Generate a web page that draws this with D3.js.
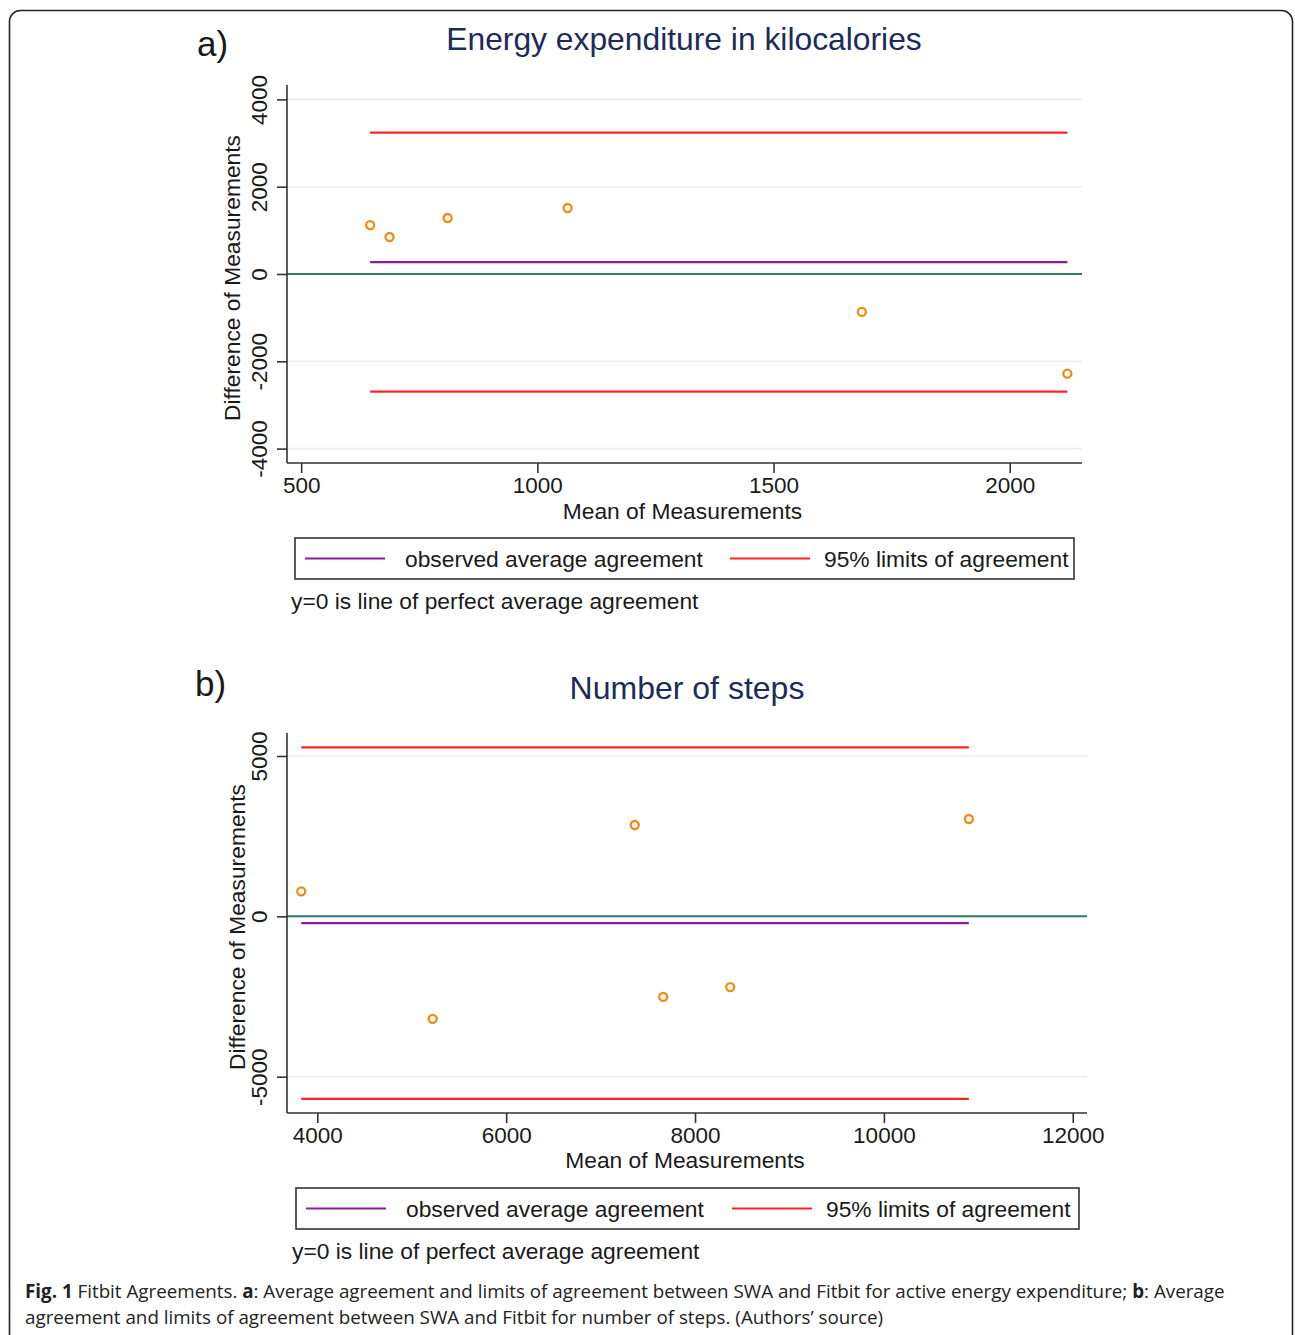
<!DOCTYPE html>
<html lang="en">
<head>
    <meta charset="UTF-8">
    <title>Fitbit Agreements - Bland-Altman plots</title>
    <script type="text/javascript" src="https://d3js.org/d3.v7.min.js"></script>
    <style>
        body { margin:0; background:#fff; }
        svg text { font-family:"Liberation Sans", Arial, sans-serif; fill:#1a1a1a; }
        .axis path, .axis line { stroke:#333; stroke-width:1.6px; }
        .grid { stroke:#e5eff1; stroke-width:1.6px; }
        svg text.caption { font-family:"Open Sans", "Noto Sans", sans-serif; fill:#222; }
    </style>
</head>
<body>
<script type="text/javascript">
    // panel a: energy expenditure (kcal)
    var energyMean = [646, 687, 810, 1064, 1687, 2122];
    var energyDiff = [1122, 848, 1283, 1512, -870, -2284];
    var energyBias = 270;
    var energyLimits = [-2696, 3237];
    var energyXTicks = [500, 1000, 1500, 2000];
    var energyYTicks = [-4000, -2000, 0, 2000, 4000];

    // panel b: number of steps
    var stepsMean = [3830, 5222, 7362, 7663, 8373, 10900];
    var stepsDiff = [780, -3194, 2848, -2508, -2205, 3035];
    var stepsBias = -209;
    var stepsLimits = [-5689, 5271];
    var stepsXTicks = [4000, 6000, 8000, 10000, 12000];
    var stepsYTicks = [-5000, 0, 5000];

    var legendLabels = ["observed average agreement", "95% limits of agreement"];
    var noteText = "y=0 is line of perfect average agreement";

    var width = 1295, height = 1335;
    var svg = d3.select("body").append("svg")
                .attr("width", width).attr("height", height);

    // figure frame
    svg.append("rect")
       .attr("x", 9.5).attr("y", 10.5)
       .attr("width", 1283).attr("height", 1345)
       .attr("rx", 11)
       .style("fill", "none").style("stroke", "#222").style("stroke-width", 1.6);

    var plain = function(d){ return String(d); };

    function drawPanel(p) {
        var xScale = d3.scaleLinear().domain(p.xDomain).range([p.left, p.right]);
        var yScale = d3.scaleLinear().domain(p.yDomain).range([p.bottom, p.top]);

        // light grid lines
        svg.append("g").selectAll("line").data(p.yTicks).join("line")
           .attr("class", "grid")
           .attr("x1", p.left).attr("x2", p.right)
           .attr("y1", function(d){ return yScale(d); })
           .attr("y2", function(d){ return yScale(d); });

        // zero line
        svg.append("line")
           .attr("x1", p.left).attr("x2", p.right)
           .attr("y1", yScale(0)).attr("y2", yScale(0))
           .style("stroke", "#2f7b70").style("stroke-width", 2);

        var xr = d3.extent(p.mean);
        var hline = function(v, col) {
            svg.append("line")
               .attr("x1", xScale(xr[0])).attr("x2", xScale(xr[1]))
               .attr("y1", yScale(v)).attr("y2", yScale(v))
               .style("stroke", col).style("stroke-width", 2.2);
        };
        hline(p.limits[1], "#ff2424");
        hline(p.limits[0], "#ff2424");
        hline(p.bias, "#8e1a9c");

        // axes
        var yAxisGroup = svg.append("g").attr("class", "axis")
            .attr("transform", "translate(" + p.left + ",0)")
            .call(d3.axisLeft(yScale).tickValues(p.yTicks).tickFormat(plain)
                    .tickSize(10).tickSizeOuter(0));
        yAxisGroup.select(".domain").attr("d", "M0," + p.bottom + "V" + p.top);
        yAxisGroup.selectAll("text")
            .attr("x", null).attr("dy", null)
            .attr("transform", "translate(-20,0) rotate(-90)")
            .style("text-anchor", "middle")
            .style("font-size", "22.5px");

        var xAxisGroup = svg.append("g").attr("class", "axis")
            .attr("transform", "translate(0," + p.bottom + ")")
            .call(d3.axisBottom(xScale).tickValues(p.xTicks).tickFormat(plain)
                    .tickSize(10).tickSizeOuter(0));
        xAxisGroup.select(".domain").attr("d", "M" + p.left + ",0H" + p.right);
        xAxisGroup.selectAll("text")
            .attr("y", 30).attr("dy", null)
            .style("font-size", "22.5px");
        svg.selectAll(".axis").attr("font-family", null).attr("font-size", null);

        // points
        svg.append("g").selectAll("circle").data(p.mean).join("circle")
           .attr("cx", function(d){ return xScale(d); })
           .attr("cy", function(d, i){ return yScale(p.diff[i]); })
           .attr("r", 4)
           .style("fill", "none").style("stroke", "#f08c10").style("stroke-width", 2.3);

        // titles
        svg.append("text").attr("x", p.titleX).attr("y", p.titleY)
           .style("text-anchor", "middle").style("font-size", p.titleSize + "px").style("fill", "#1c2b58")
           .text(p.title);
        svg.append("text").attr("x", p.tagX).attr("y", p.tagY)
           .style("font-size", "35px").text(p.tag);
        svg.append("text").attr("x", (p.left + p.right) / 2 - 2).attr("y", p.xTitleY)
           .style("text-anchor", "middle").style("font-size", "22.8px")
           .text("Mean of Measurements");
        svg.append("text")
           .attr("transform", "translate(" + p.yTitleX + "," + ((p.top + p.bottom) / 2 + 4) + ") rotate(-90)")
           .style("text-anchor", "middle").style("font-size", "22.8px")
           .text("Difference of Measurements");

        // legend
        var lg = svg.append("g").attr("transform", "translate(" + p.legX + "," + p.legY + ")");
        lg.append("rect").attr("x", 0).attr("y", 0).attr("width", p.legW).attr("height", 41)
          .style("fill", "#fff").style("stroke", "#333").style("stroke-width", 1.6);
        var keys = [{c:"#8e1a9c", x0:10, tx:110}, {c:"#ff2424", x0:p.legX2, tx:p.legX2 + 94}];
        keys.forEach(function(k, i) {
            lg.append("line").attr("x1", k.x0).attr("x2", k.x0 + 80).attr("y1", 20.5).attr("y2", 20.5)
              .style("stroke", k.c).style("stroke-width", 2.2);
            lg.append("text").attr("x", k.tx).attr("y", 29)
              .style("font-size", "22.8px").text(legendLabels[i]);
        });
        svg.append("text").attr("x", p.legX - 4).attr("y", p.legY + 71)
           .style("font-size", "22.8px").text(noteText);
    }

    drawPanel({
        mean: energyMean, diff: energyDiff, bias: energyBias, limits: energyLimits,
        xTicks: energyXTicks, yTicks: energyYTicks,
        xDomain: [470, 2153], yDomain: [-4330, 4330],
        left: 287, right: 1082, top: 85, bottom: 463,
        title: "Energy expenditure in kilocalories", titleSize: 31.8, titleX: 684, titleY: 50,
        tag: "a)", tagX: 197, tagY: 56,
        xTitleY: 519, yTitleX: 240,
        legX: 295, legY: 538, legW: 779, legX2: 435
    });

    drawPanel({
        mean: stepsMean, diff: stepsDiff, bias: stepsBias, limits: stepsLimits,
        xTicks: stepsXTicks, yTicks: stepsYTicks,
        xDomain: [3679, 12151], yDomain: [-6132, 5717],
        left: 287, right: 1087, top: 733, bottom: 1113,
        title: "Number of steps", titleSize: 32, titleX: 687, titleY: 699,
        tag: "b)", tagX: 195, tagY: 696,
        xTitleY: 1168, yTitleX: 245,
        legX: 296, legY: 1188, legW: 783, legX2: 436
    });

    // caption
    var cap = svg.append("text").attr("class", "caption").style("font-size", "18.8px");
    var line1 = cap.append("tspan").attr("x", 25).attr("y", 1298);
    line1.append("tspan").style("font-weight", "bold").text("Fig. 1");
    line1.append("tspan").text(" Fitbit Agreements. ");
    line1.append("tspan").style("font-weight", "bold").text("a");
    line1.append("tspan").text(": Average agreement and limits of agreement between SWA and Fitbit for active energy expenditure; ");
    line1.append("tspan").style("font-weight", "bold").text("b");
    line1.append("tspan").text(": Average");
    cap.append("tspan").attr("x", 25).attr("y", 1324)
       .text("agreement and limits of agreement between SWA and Fitbit for number of steps. (Authors\u2019 source)");
</script>
</body>
</html>
